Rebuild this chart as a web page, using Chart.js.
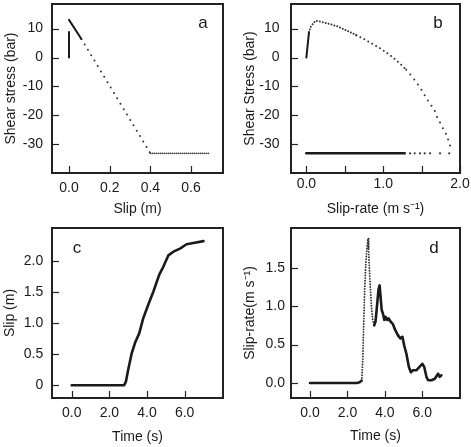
<!DOCTYPE html>
<html><head><meta charset="utf-8">
<script src="https://cdn.jsdelivr.net/npm/chart.js@4.4.1/dist/chart.umd.min.js"></script>
<style>
html,body{margin:0;padding:0;background:#fff;}
#wrap{position:relative;width:471px;height:447px;overflow:hidden;}
canvas{position:absolute;}
</style></head><body>
<div id="wrap">
<canvas id="ca" width="235" height="220" style="left:0;top:0"></canvas>
<canvas id="cb" width="236" height="220" style="left:235px;top:0"></canvas>
<canvas id="cc" width="235" height="227" style="left:0;top:220px"></canvas>
<canvas id="cd" width="236" height="227" style="left:235px;top:220px"></canvas>
</div>
<script>
// ---------- Panel a: shear stress vs slip ----------
const aStickSlip = [0.0, 0.0];
const aStickStress = [0.0, 8.8];
const aPeakSlip = [0.0, 0.061];
const aPeakStress = [13.0, 6.4];
const aWeakSlip = [0.061, 0.40];
const aWeakStress = [6.4, -33.1];
const aFricSlip = [0.40, 0.69];
const aFricStress = [-33.1, -33.1];
const aXTicks = [0.0, 0.2, 0.4, 0.6];
const aXLabels = ['0.0', '0.2', '0.4', '0.6'];
const stressTicks = [-30, -20, -10, 0, 10];
const stressLabels = ['-30', '-20', '-10', '0', '10'];

// ---------- Panel b: shear stress vs slip-rate ----------
const bStickRate = [0.0, 0.034];
const bStickStress = [0.0, 8.7];
const bCurveRate = [0.034, 0.056, 0.117, 0.17, 0.23, 0.30, 0.39, 0.48, 0.56, 0.65, 0.74, 0.83, 0.91, 1.00, 1.10, 1.20, 1.30, 1.40, 1.50, 1.58, 1.63, 1.67, 1.70, 1.74, 1.78, 1.82, 1.85, 1.877];
const bCurveStress = [8.7, 10.6, 12.7, 12.5, 12.1, 11.6, 10.9, 9.9, 8.9, 7.7, 6.5, 5.2, 4.0, 2.5, 0.6, -1.6, -4.2, -7.4, -11.2, -14.8, -16.7, -18.4, -20.5, -22.5, -24.6, -26.5, -28.8, -30.9];
const bDropRate = [1.86, 1.74, 1.61, 1.54, 1.48, 1.41, 1.35, 1.28];
const bDropStress = [-33.1, -33.1, -33.1, -33.1, -33.1, -33.1, -33.1, -33.1];
const bFricRate = [0.0, 1.28];
const bFricStress = [-33.1, -33.1];
const bXTicks = [0.0, 0.5, 1.0, 1.5, 2.0];
const bXLabels = ['0.0', '', '1.0', '', '2.0'];

// ---------- Panel c: slip vs time ----------
const cTime = [0, 2.78, 2.88, 3.0, 3.19, 3.36, 3.59, 3.8, 4.07, 4.34, 4.65, 4.87, 5.13, 5.4, 5.75, 6.1, 6.46, 7.0];
const cSlip = [0, 0, 0.06, 0.25, 0.52, 0.68, 0.84, 1.08, 1.3, 1.51, 1.78, 1.91, 2.09, 2.15, 2.2, 2.27, 2.29, 2.32];
const timeTicks = [0, 2, 4, 6];
const timeLabels = ['0.0', '2.0', '4.0', '6.0'];
const cYTicks = [0, 0.5, 1.0, 1.5, 2.0];
const cYLabels = ['0', '0.5', '1.0', '1.5', '2.0'];

// ---------- Panel d: slip-rate vs time ----------
const dTime = [0, 2.5, 2.65, 2.76, 2.82, 2.86, 2.92, 2.98, 3.05, 3.1, 3.13, 3.17, 3.22, 3.28, 3.35, 3.43, 3.5, 3.59, 3.66, 3.72, 3.77, 3.83, 3.9, 3.97, 4.04, 4.12, 4.2, 4.3, 4.42, 4.55, 4.7, 4.83, 4.94, 5.03, 5.15, 5.28, 5.39, 5.5, 5.68, 5.85, 6.0, 6.1, 6.22, 6.31, 6.49, 6.67, 6.84, 6.93, 7.02];
const dRate = [0, 0, 0.01, 0.03, 0.3, 0.7, 1.2, 1.55, 1.78, 1.88, 1.75, 1.5, 1.25, 1.0, 0.82, 0.75, 0.8, 1.03, 1.22, 1.27, 1.12, 0.95, 0.9, 0.82, 0.86, 0.82, 0.84, 0.8, 0.77, 0.69, 0.62, 0.58, 0.6, 0.49, 0.38, 0.21, 0.14, 0.165, 0.165, 0.21, 0.25, 0.21, 0.08, 0.035, 0.035, 0.055, 0.12, 0.08, 0.1];
const dYTicks = [0, 0.5, 1.0, 1.5];
const dYLabels = ['0.0', '0.5', '1.0', '1.5'];

const FONT = "'Liberation Sans', Arial, Helvetica, sans-serif";
const INK = '#1a1a1a';
const pts = (xs, ys) => xs.map((x, i) => ({x: x, y: ys[i]}));

const framePlugin = {
  id: 'frame',
  afterDraw(chart, args, o) {
    const ctx = chart.ctx, a = chart.chartArea;
    const xs = chart.scales.x, ys = chart.scales.y;
    ctx.save();
    ctx.strokeStyle = '#222';
    ctx.lineWidth = 1.2;
    xs.ticks.forEach(t => {
      const px = Math.round(xs.getPixelForValue(t.value)) + 0.5;
      ctx.beginPath(); ctx.moveTo(px, a.bottom); ctx.lineTo(px, a.bottom - 7); ctx.stroke();
    });
    ys.ticks.forEach(t => {
      const py = Math.round(ys.getPixelForValue(t.value)) + 0.5;
      ctx.beginPath(); ctx.moveTo(a.left, py); ctx.lineTo(a.left + 7, py); ctx.stroke();
    });
    ctx.lineWidth = 2;
    ctx.strokeRect(a.left, a.top, a.right - a.left, a.bottom - a.top);
    ctx.fillStyle = INK;
    ctx.font = '17px ' + FONT;
    ctx.textAlign = 'center';
    ctx.textBaseline = 'alphabetic';
    ctx.fillText(o.letter, o.lx, o.ly);
    ctx.restore();
  }
};

function makeAxis(cfg) {
  return {
    type: 'linear',
    min: cfg.min, max: cfg.max,
    grid: {display: false, drawTicks: false},
    border: {display: false},
    afterBuildTicks: s => { s.ticks = cfg.ticks.map(v => ({value: v})); },
    afterFit: s => {
      if (cfg.w !== undefined) s.width = cfg.w;
      if (cfg.h !== undefined) s.height = cfg.h;
      s.paddingTop = 0; s.paddingBottom = 0; s.paddingLeft = 0; s.paddingRight = 0;
    },
    ticks: {
      autoSkip: false, maxRotation: 0, padding: cfg.pad,
      color: INK, font: {family: FONT, size: 14},
      callback: (v, i) => cfg.labels[i]
    },
    title: {display: true, text: cfg.title, color: INK, font: {family: FONT, size: 14},
            padding: {top: cfg.tpad, bottom: cfg.tpad}}
  };
}

function makeChart(id, datasets, xCfg, yCfg, layoutPad, frame) {
  new Chart(document.getElementById(id), {
    type: 'line',
    data: {datasets: datasets},
    options: {
      responsive: false, animation: false, devicePixelRatio: 1,
      layout: {padding: layoutPad},
      plugins: {legend: {display: false}, tooltip: {enabled: false}, frame: frame},
      elements: {point: {radius: 0}, line: {tension: 0}},
      scales: {x: makeAxis(xCfg), y: makeAxis(yCfg)}
    },
    plugins: [framePlugin]
  });
}

const solid = (data, w, c) => ({data: data, borderColor: c || '#1a1a1a', borderWidth: w, borderCapStyle: 'round', borderJoinStyle: 'round', pointRadius: 0, fill: false});
const dotted = (data, w, gap, c) => ({data: data, borderColor: c || '#333', borderWidth: w, borderDash: [0, gap], borderCapStyle: 'round', pointRadius: 0, fill: false});

// Panel a
makeChart('ca', [
  solid(pts(aStickSlip, aStickStress), 2),
  solid(pts(aPeakSlip, aPeakStress), 2),
  dotted(pts(aWeakSlip, aWeakStress), 2, 6.3),
  dotted(pts(aFricSlip, aFricStress), 1.8, 2, '#444')
],
{min: -0.0836, max: 0.757, ticks: aXTicks, labels: aXLabels, pad: 7, title: 'Slip (m)', tpad: 2.6, h: 47},
{min: -39.9, max: 18.5, ticks: stressTicks, labels: stressLabels, pad: 9, title: 'Shear stress (bar)', tpad: 2.4, w: 52},
{top: 4, right: 12, left: 0, bottom: 0},
{letter: 'a', lx: 203, ly: 28});

// Panel b
const bCurve = {data: pts(bCurveRate, bCurveStress), borderColor: '#333', borderWidth: 2, borderCapStyle: 'round', pointRadius: 0, fill: false,
  borderDash: [0, 4],
  segment: {borderDash: ctx => ctx.p0.parsed.x < 0.6 ? [0, 3] : (ctx.p0.parsed.x < 1.3 ? [0, 4.5] : [0, 6.3])}};
makeChart('cb', [
  solid(pts(bStickRate, bStickStress), 2),
  bCurve,
  {data: pts(bDropRate, bDropStress), showLine: false, pointRadius: 1.1, pointBorderWidth: 0, pointBackgroundColor: '#333', borderColor: '#333'},
  solid(pts(bFricRate, bFricStress), 2.6)
],
{min: -0.2, max: 2.0, ticks: bXTicks, labels: bXLabels, pad: 2.5, title: 'Slip-rate (m s\u207B\u00B9)', tpad: 2.6, h: 47},
{min: -39.9, max: 18.5, ticks: stressTicks, labels: stressLabels, pad: 11.5, title: 'Shear Stress (bar)', tpad: 6.3, w: 56},
{top: 4, right: 11, left: 0, bottom: 0},
{letter: 'b', lx: 203, ly: 28});

// Panel c
makeChart('cc', [
  solid(pts(cTime, cSlip), 2.6)
],
{min: -1.046, max: 8.035, ticks: timeTicks, labels: timeLabels, pad: 7, title: 'Time (s)', tpad: 1.1, h: 49},
{min: -0.204, max: 2.531, ticks: cYTicks, labels: cYLabels, pad: 8.7, title: 'Slip (m)', tpad: 1.6, w: 52},
{top: 8, right: 12, left: 0, bottom: 0},
{letter: 'c', lx: 77, ly: 33});

// Panel d
const isDotD = ctx => ctx.p0.parsed.x >= 2.76 && ctx.p1.parsed.x <= 3.43;
makeChart('cd', [
  {data: pts(dTime, dRate), borderColor: '#1a1a1a', borderWidth: 2.6, borderCapStyle: 'round', borderJoinStyle: 'round', pointRadius: 0, fill: false,
   segment: {borderDash: ctx => isDotD(ctx) ? [0, 2.7] : undefined, borderWidth: ctx => isDotD(ctx) ? 1.9 : undefined, borderColor: ctx => isDotD(ctx) ? '#333' : undefined}}
],
{min: -1.015, max: 8.013, ticks: timeTicks, labels: timeLabels, pad: 7, title: 'Time (s)', tpad: 2.6, h: 49},
{min: -0.196, max: 2.018, ticks: dYTicks, labels: dYLabels, pad: 6, title: 'Slip-rate(m s\u207B\u00B9)', tpad: 6.4, w: 56},
{top: 8, right: 11, left: 0, bottom: 0},
{letter: 'd', lx: 199, ly: 33});
</script>
</body></html>
